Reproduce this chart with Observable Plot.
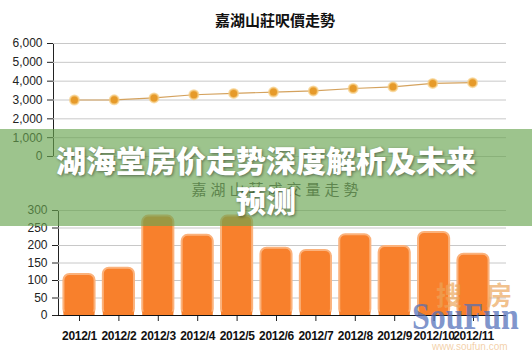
<!DOCTYPE html>
<html>
<head>
<meta charset="utf-8">
<script src="https://cdn.jsdelivr.net/npm/d3@7"></script>
<script src="https://cdn.jsdelivr.net/npm/@observablehq/plot@0.6"></script>
<style>
  html, body { margin: 0; padding: 0; background: #fff; }
  #root { position: relative; width: 532px; height: 355px; overflow: hidden; background: #fff; }
  .abs { position: absolute; white-space: nowrap; }
  .title1 { left: 0; width: 550px; top: 12px; text-align: center; font: bold 15px/16px "Noto Sans CJK TC", sans-serif; color: #111; }
  .title2 { left: 0; width: 554px; top: 180px; text-align: center; font: 15px/17px "Noto Sans CJK TC", sans-serif; color: #4a4a4a; letter-spacing: 4px; }
  #bottomChart [aria-label^="x-axis"] text { font-weight: bold; fill: #111; letter-spacing: -0.3px; }
  .banner { left: 0; top: 129px; width: 532px; height: 97px; background: rgba(105,165,80,0.65); }
  .bannerText { left: 0; width: 532px; top: 139px; text-align: center; color: #fff; font: 900 30px/40px "Noto Sans CJK SC", sans-serif; text-shadow: 1px 1px 3px rgba(0,0,0,0.45); }
  .wm1 { top: 279px; font: bold 26px/30px "Noto Sans CJK SC", sans-serif; color: rgba(235,165,90,0.7); }
  .wm2 { left: 412px; top: 292px; font: bold 32px/40px "Liberation Serif", serif; color: rgba(80,110,185,0.72); transform: scaleY(1.2); transform-origin: top left; }
  .wm3 { left: 432px; top: 341px; font: 10px/12px "Liberation Sans", sans-serif; color: rgba(235,175,110,0.6); }
</style>
</head>
<body>
<div id="root">
  <div class="abs title1">嘉湖山莊呎價走勢</div>
  <div id="topChart" class="abs" style="left:0;top:0;"></div>
  <div class="abs title2">嘉湖山莊成交量走勢</div>
  <div id="bottomChart" class="abs" style="left:0;top:200px;"></div>
  <div class="abs wm1" style="left:436px;">搜</div>
  <div class="abs wm1" style="left:486px;">房</div>
  <div class="abs wm2">SouFun</div>
  <div class="abs wm3">www.soufun.com</div>
  <div class="abs banner"></div>
  <div class="abs bannerText"><span>湖海堂房价走势深度解析及未来</span><br><span>预测</span></div>
</div>
<script>
const months = ["2012/1","2012/2","2012/3","2012/4","2012/5","2012/6","2012/7","2012/8","2012/9","2012/10","2012/11"];
const priceValues = [3000, 3010, 3110, 3280, 3350, 3420, 3480, 3610, 3700, 3880, 3920];
const volumeValues = [117, 135, 284, 229, 284, 192, 186, 231, 197, 237, 175];
const priceTicks = [0, 1000, 2000, 3000, 4000, 5000, 6000];
const volumeTicks = [0, 50, 100, 150, 200, 250, 300];

const priceData = months.map((m, i) => ({month: m, price: priceValues[i]}));
const volumeData = months.map((m, i) => ({month: m, volume: volumeValues[i]}));

const axisStyle = {fontFamily: "'Liberation Sans', Arial, sans-serif", fontSize: "12px", color: "#222", background: "transparent", overflow: "visible"};

const priceChart = Plot.plot({
  width: 532, height: 170,
  marginTop: 43, marginBottom: 14, marginLeft: 53, marginRight: 26,
  style: axisStyle,
  x: {type: "band", domain: months, padding: 0, round: false, insetLeft: 1, insetRight: 14, axis: null},
  y: {domain: [0, 6000], ticks: priceTicks, tickFormat: d3.format(","), tickSize: 6, tickPadding: 5, label: null, line: true},
  marks: [
    Plot.ruleY(priceTicks, {stroke: "#c8c8c8"}),
    Plot.line(priceData, {x: "month", y: "price", stroke: "#d4a25e", strokeWidth: 1.2}),
    Plot.dot(priceData, {x: "month", y: "price", r: 4.5, fill: "#e69a2a", stroke: "#f6cf86", strokeOpacity: 0.7, strokeWidth: 2})
  ]
});
document.getElementById("topChart").appendChild(priceChart);

const volumeChart = Plot.plot({
  width: 532, height: 155,
  marginTop: 10, marginBottom: 40, marginLeft: 58, marginRight: 26,
  style: axisStyle,
  x: {type: "band", domain: months, paddingInner: 0.21, paddingOuter: 0.138, round: false, insetRight: 12, tickSize: 6, tickPadding: 10, label: null},
  y: {domain: [0, 300], ticks: volumeTicks, tickSize: 6, tickPadding: 5, label: null, line: true},
  marks: [
    Plot.ruleY(volumeTicks.filter(d => d > 0), {stroke: "#c8c8c8"}),
    Plot.barY(volumeData, {x: "month", y: "volume", fill: "#f8802c", stroke: "#fbb27c", strokeWidth: 2, rx: 6}),
    Plot.barY(volumeData, {x: "month", y1: 0, y2: 10, fill: "#f8802c"}),
    Plot.ruleY([0], {stroke: "#111"})
  ]
});
document.getElementById("bottomChart").appendChild(volumeChart);
</script>
</body>
</html>
